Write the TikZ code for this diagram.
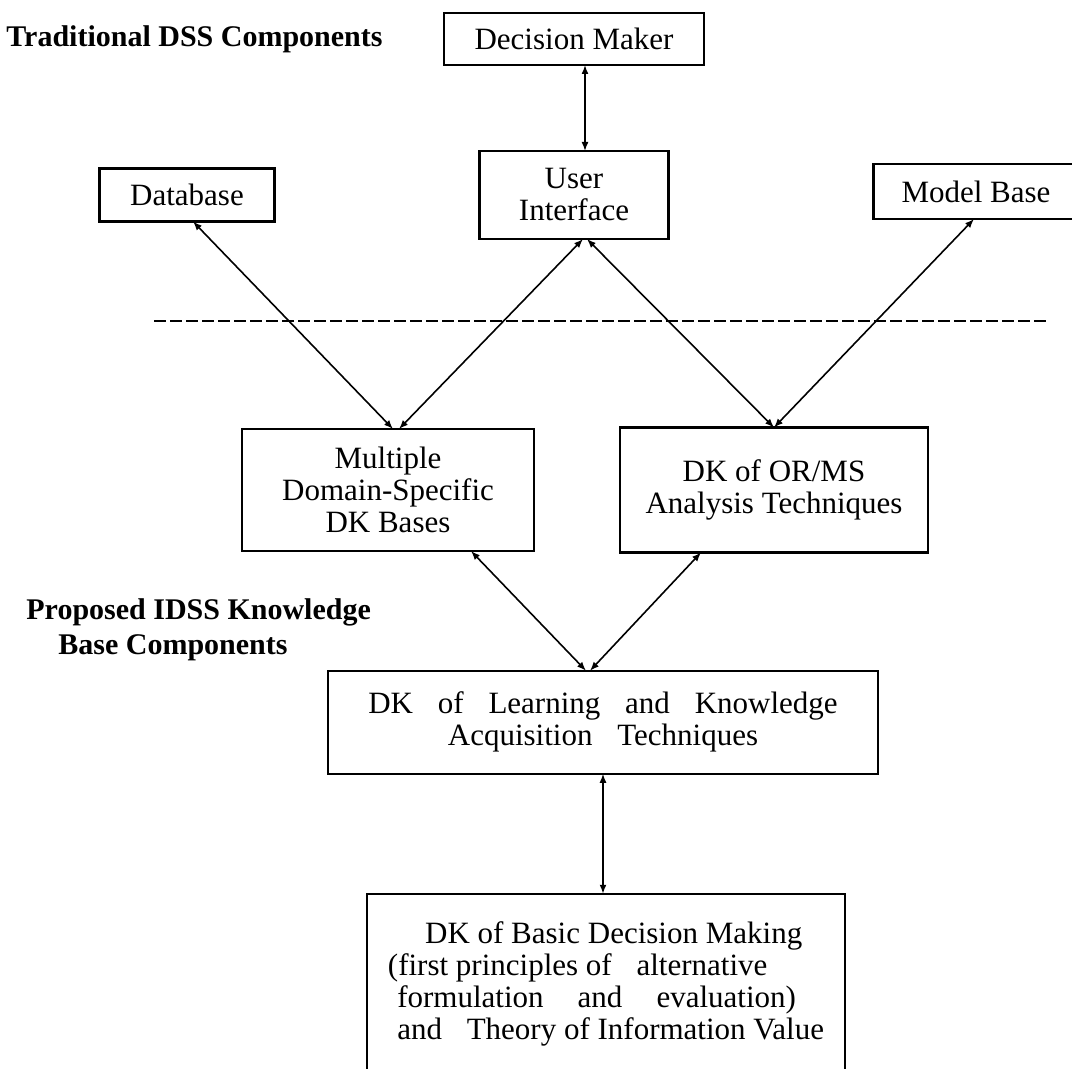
\documentclass[tikz,border=0pt]{standalone}
\usepackage{fontspec}
\setmainfont{Liberation Serif}
\usetikzlibrary{arrows.meta,positioning,calc}
\newcommand{\wgap}{\hspace{0.8em}}

\begin{document}
\begin{tikzpicture}[>={Latex[length=4.5pt,width=3.5pt]},
  every node/.style={align=center,font=\fontsize{15.5pt}{16pt}\selectfont},
  box/.style={draw,line width=1.1pt,outer sep=0pt,inner sep=2pt},
  heading/.style={inner sep=0pt,font=\fontsize{15pt}{17.5pt}\selectfont\bfseries},
  link/.style={<->,line width=0.8pt}]
  \useasboundingbox (0,0) rectangle (536pt,-534.5pt);
  % traditional DSS components
  \node[box,minimum width=130pt,minimum height=26pt] (dm) at (287pt,-19.5pt) {Decision Maker};
  \node[box,minimum width=94.5pt,minimum height=44pt,below=43pt of dm] (ui) {User\\Interface};
  \node[box,minimum width=87.5pt,minimum height=26.5pt,left=102.5pt of ui] (db) {Database};
  \node[box,minimum width=102.5pt,minimum height=27.5pt,right=102.5pt of ui,yshift=1.75pt] (mb) {Model Base};
  \node[heading,left=30.5pt of dm] (trad) {Traditional DSS Components};
  \draw[dash pattern=on 6pt off 2pt,line width=0.9pt] (77pt,-160.5pt) -- (523pt,-160.5pt);
  % proposed IDSS knowledge base
  \node[box,minimum width=146pt,minimum height=61pt,below=95pt of ui,xshift=-93pt] (mul)
    {Multiple\\Domain-Specific\\DK Bases};
  \node[box,minimum width=154pt,minimum height=62.5pt,right=43pt of mul] (ors)
    {DK of OR/MS\\Analysis Techniques};
  \node[box,minimum width=275pt,minimum height=51.5pt,below=59.5pt of $(mul.south)!0.5!(ors.south)$,xshift=11pt] (lrn)
    {DK\wgap of\wgap Learning\wgap and\wgap Knowledge\\Acquisition\wgap Techniques};
  \node[box,minimum width=239pt,minimum height=90pt,below=60pt of lrn,xshift=1.5pt,align=left] (bas)
    {\hspace*{1.2em}DK of Basic Decision Making\\(first principles of\wgap alternative\\
     \hspace*{0.3em}formulation\hspace{1.1em}and\hspace{1.1em}evaluation)\\
     \hspace*{0.3em}and\wgap Theory of Information Value};
  \node[heading,anchor=west,align=left] (prop) at (13pt,-315pt)
    {Proposed IDSS Knowledge\\\hspace*{16pt}Base Components};
  % connectors
  \draw[link] ([xshift=5.5pt]dm.south) -- ([xshift=5.5pt]ui.north);
  \draw[link] ([xshift=3pt]db.south) -- ([xshift=2.5pt]mul.north);
  \draw[link] ([xshift=4.5pt]ui.south) -- ([xshift=5.5pt]mul.north);
  \draw[link] ([xshift=6.5pt]ui.south) -- (ors.north);
  \draw[link] ([xshift=-1pt]mb.south) -- (ors.north);
  \draw[link] ([xshift=41.5pt]mul.south) -- ([xshift=-8.5pt]lrn.north);
  \draw[link] ([xshift=-36.5pt]ors.south) -- ([xshift=-6.5pt]lrn.north);
  \draw[link] (lrn.south) -- (lrn.south |- bas.north);
\end{tikzpicture}
\end{document}
